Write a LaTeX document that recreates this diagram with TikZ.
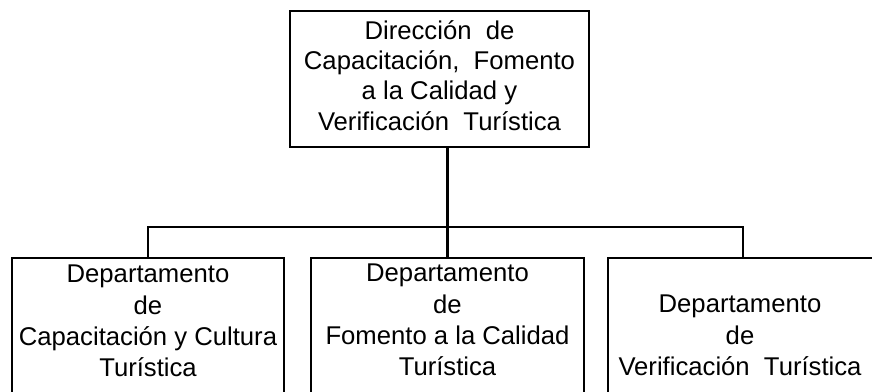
\documentclass[tikz,border=0pt]{standalone}
\usepackage{fontspec}
\setmainfont{Liberation Sans}
\tikzset{
  unit/.style={draw, line width=1.7pt, inner sep=0pt},
  unitname/.style={inner sep=0pt, align=center, font=\fontsize{19.25}{23.5}\selectfont},
  link/.style={line width=1.7pt},
}
\begin{document}
\begin{tikzpicture}[x=0.75pt,y=0.75pt,yscale=-1,xscale=1]
\useasboundingbox (0,0) rectangle (872,392);
\clip (0,0) rectangle (872,392);

%Shape: Rectangle
\node[unit, minimum width=224.25pt, minimum height=102pt] (dir) at (439.5,79) {};
%Shape: Rectangle
\node[unit, minimum width=204pt, minimum height=112.5pt, anchor=north] (cap) at (148,257) {};
%Shape: Rectangle
\node[unit, minimum width=204.75pt, minimum height=112.5pt, anchor=north] (fom) at (447.5,257) {};
%Shape: Rectangle
\node[unit, minimum width=202.5pt, minimum height=112.5pt, anchor=north] (ver) at (743,257) {};

% Text Node
\node[unitname, font=\fontsize{19.25}{22.8}\selectfont, anchor=north] (dirtxt) at (439.5,20) {Dirección\ \ de\\Capacitación,\ \ Fomento\\a la Calidad y\\Verificación\ \ Turística};
% Text Node
\node[unitname, anchor=north] (captxt) at (148,265) {Departamento\\de\\Capacitación y Cultura\\Turística};
% Text Node
\node[unitname, anchor=north] (fomtxt) at (447.5,264) {Departamento\\de\\Fomento a la Calidad\\Turística};
% Text Node
\node[unitname, anchor=north] (vertxt) at (740,295) {Departamento\\de\\Verificación\ \ Turística};

%Straight Lines
\coordinate (bus) at (447.5,227);
\draw[link] (dir.south -| fom.north) -- (fom.north);
\draw[link] (cap.north) |- (bus) -| (ver.north);

\end{tikzpicture}
\end{document}
